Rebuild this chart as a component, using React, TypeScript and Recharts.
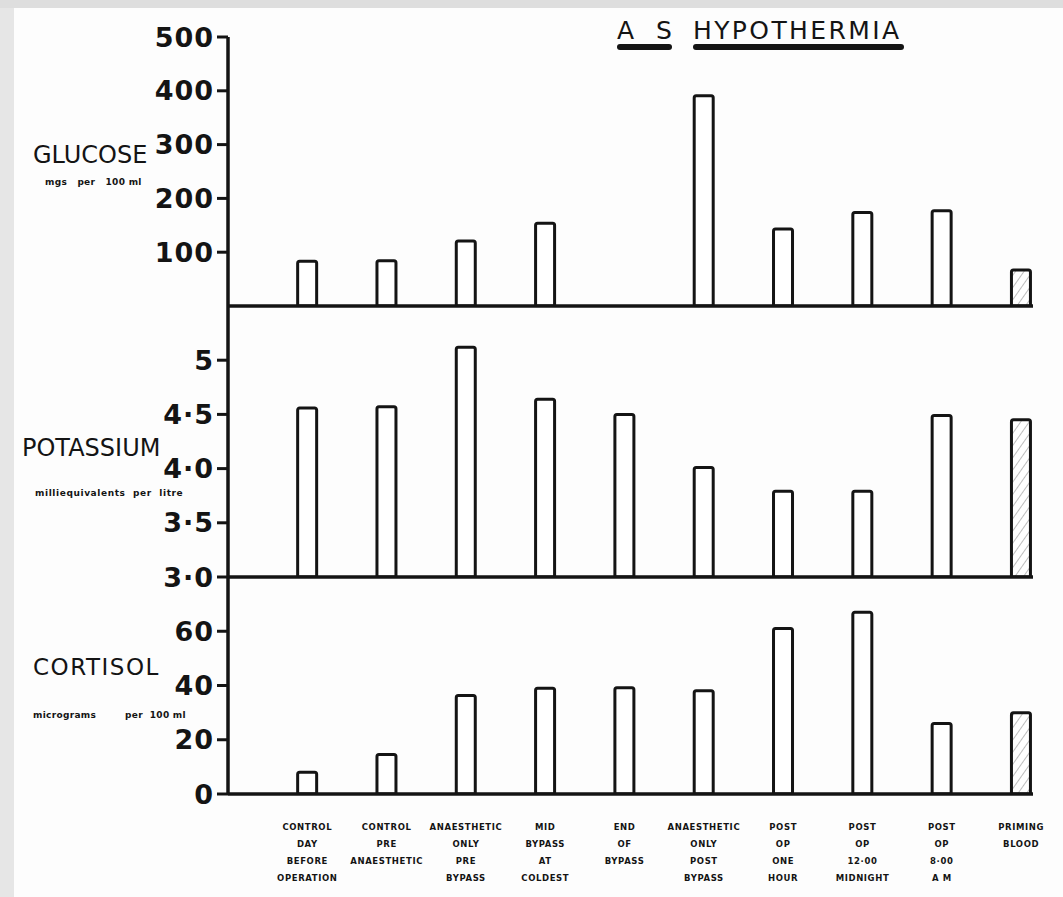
import { Bar, BarChart, Cell, XAxis, YAxis } from "recharts";

const categories = [
  ["CONTROL", "DAY", "BEFORE", "OPERATION"],
  ["CONTROL", "PRE", "ANAESTHETIC"],
  ["ANAESTHETIC", "ONLY", "PRE", "BYPASS"],
  ["MID", "BYPASS", "AT", "COLDEST"],
  ["END", "OF", "BYPASS"],
  ["ANAESTHETIC", "ONLY", "POST", "BYPASS"],
  ["POST", "OP", "ONE", "HOUR"],
  ["POST", "OP", "12·00", "MIDNIGHT"],
  ["POST", "OP", "8·00", "A M"],
  ["PRIMING", "BLOOD"],
];

const glucose = [83, 84, 121, 154, null, 391, 143, 174, 177, 67];
const potassium = [4.56, 4.57, 5.12, 4.64, 4.5, 4.01, 3.79, 3.79, 4.49, 4.45];
const cortisol = [8, 14.6, 36.3, 39, 39.2, 38.1, 61, 67, 26, 30];

const glucoseTicks = [100, 200, 300, 400, 500];
const potassiumTicks = [3, 3.5, 4, 4.5, 5];
const cortisolTicks = [0, 20, 40, 60];

// last column (priming blood) is drawn hatched
const hatched = categories.map((c) => c[0] === "PRIMING");

const rows = categories.map((_, i) => ({
  x: i + 1,
  glucose: glucose[i],
  potassium: potassium[i],
  cortisol: cortisol[i],
}));

const INK = "#141414";
const W = 1063;
const AXIS_W = 228;
const RIGHT = 30;
const X_DOMAIN: [number, number] = [0, 10.15];
const xTicks = categories.map((_, i) => i + 1);

const tickStyle = {
  fill: INK,
  fontSize: 27,
  fontWeight: 700,
  fontFamily: "'DejaVu Sans', sans-serif",
  letterSpacing: 1,
};

const fmtPotassium = (v: number) => (v === 5 ? "5" : v.toFixed(1).replace(".", "·"));

function CategoryTick({ x, y, payload }: any) {
  const lines = categories[payload.value - 1] ?? [];
  return (
    <g transform={`translate(${x},${y})`}>
      {lines.map((line, i) => (
        <text
          key={i}
          x={0}
          y={36 + i * 17}
          textAnchor="middle"
          fill={INK}
          fontSize={8.5}
          fontWeight={700}
          letterSpacing={0.6}
          fontFamily="'DejaVu Sans', sans-serif"
        >
          {line}
        </text>
      ))}
    </g>
  );
}

function Hatch({ id }: { id: string }) {
  return (
    <defs>
      <pattern id={id} width={7} height={7} patternUnits="userSpaceOnUse" patternTransform="rotate(35)">
        <rect width={7} height={7} fill="#fff" />
        <line x1={0} y1={0} x2={0} y2={7} stroke="#9a9a9a" strokeWidth={1.3} />
      </pattern>
    </defs>
  );
}

type PanelProps = {
  top: number;
  height: number;
  margin: { top: number; bottom: number };
  dataKey: "glucose" | "potassium" | "cortisol";
  domain: [number, number];
  ticks: number[];
  formatter?: (v: number) => string;
  showCategories?: boolean;
};

function Panel({ top, height, margin, dataKey, domain, ticks, formatter, showCategories }: PanelProps) {
  const hatchId = `hatch-${dataKey}`;
  return (
    <div style={{ position: "absolute", left: 0, top }}>
      <BarChart
        width={W}
        height={height}
        data={rows}
        margin={{ top: margin.top, bottom: margin.bottom, left: 0, right: RIGHT }}
        style={{ overflow: "visible" }}
      >
        <Hatch id={hatchId} />
        <XAxis
          type="number"
          dataKey="x"
          domain={X_DOMAIN}
          ticks={xTicks}
          allowDataOverflow
          height={showCategories ? 90 : 2}
          tickLine={false}
          tickSize={0}
          tickMargin={0}
          tick={showCategories ? <CategoryTick /> : false}
          axisLine={{ stroke: INK, strokeWidth: 3.5 }}
        />
        <YAxis
          width={AXIS_W}
          domain={domain}
          ticks={ticks}
          allowDataOverflow
          interval={0}
          tickFormatter={formatter}
          tick={tickStyle}
          tickSize={11}
          tickMargin={3}
          tickLine={{ stroke: INK, strokeWidth: 3 }}
          axisLine={{ stroke: INK, strokeWidth: 3.5 }}
        />
        <Bar
          dataKey={dataKey}
          barSize={19}
          stroke={INK}
          strokeWidth={3}
          radius={[2, 2, 0, 0]}
          isAnimationActive={false}
        >
          {rows.map((_, i) => (
            <Cell key={i} fill={hatched[i] ? `url(#${hatchId})` : "#fff"} />
          ))}
        </Bar>
      </BarChart>
    </div>
  );
}

const labelFont = "'DejaVu Sans', sans-serif";
const unitStyle = { whiteSpace: "pre" as const };

export default function App() {
  return (
    <div
      style={{
        position: "absolute",
        left: 0,
        top: 0,
        width: W,
        height: 897,
        background: "#fdfdfd",
        overflow: "hidden",
      }}
    >
      <div style={{ position: "absolute", left: 0, top: 0, width: 14, height: 897, background: "#e6e6e6" }} />
      <div style={{ position: "absolute", left: 0, top: 0, width: W, height: 8, background: "#dedede" }} />

      <Panel
        top={0}
        height={330}
        margin={{ top: 37, bottom: 22 }}
        dataKey="glucose"
        domain={[0, 500]}
        ticks={glucoseTicks}
      />
      <Panel
        top={280}
        height={320}
        margin={{ top: 26, bottom: 21 }}
        dataKey="potassium"
        domain={[3, 5.5]}
        ticks={potassiumTicks}
        formatter={fmtPotassium}
      />
      <Panel
        top={550}
        height={347}
        margin={{ top: 27, bottom: 13 }}
        dataKey="cortisol"
        domain={[0, 80]}
        ticks={cortisolTicks}
        showCategories
      />

      <svg
        width={W}
        height={897}
        style={{ position: "absolute", left: 0, top: 0, pointerEvents: "none" }}
      >
        <text x={617} y={39} fontSize={25} fill={INK} fontFamily={labelFont} letterSpacing={7}>
          A S
        </text>
        <rect x={617} y={44} width={55} height={6} rx={3} fill={INK} />
        <text x={693} y={39} fontSize={25} fill={INK} fontFamily={labelFont} letterSpacing={2.4}>
          HYPOTHERMIA
        </text>
        <rect x={693} y={44} width={211} height={6} rx={3} fill={INK} />

        <text x={33} y={163} fontSize={24} fill={INK} fontFamily={labelFont}>
          GLUCOSE
        </text>
        <text x={45} y={185} fontSize={9} fontWeight={700} fill={INK} fontFamily={labelFont} letterSpacing={0.3} style={unitStyle}>
          {"mgs   per   100 ml"}
        </text>

        <text x={22} y={456} fontSize={24} fill={INK} fontFamily={labelFont}>
          POTASSIUM
        </text>
        <text x={35} y={496} fontSize={9} fontWeight={700} fill={INK} fontFamily={labelFont} letterSpacing={0.6} style={unitStyle}>
          {"milliequivalents  per  litre"}
        </text>

        <text x={33} y={675} fontSize={23} fill={INK} fontFamily={labelFont} letterSpacing={1.5}>
          CORTISOL
        </text>
        <text x={33} y={718} fontSize={9} fontWeight={700} fill={INK} fontFamily={labelFont} letterSpacing={0.3}>
          micrograms
        </text>
        <text x={125} y={718} fontSize={9} fontWeight={700} fill={INK} fontFamily={labelFont} letterSpacing={0.3} style={unitStyle}>
          {"per  100 ml"}
        </text>
      </svg>
    </div>
  );
}
